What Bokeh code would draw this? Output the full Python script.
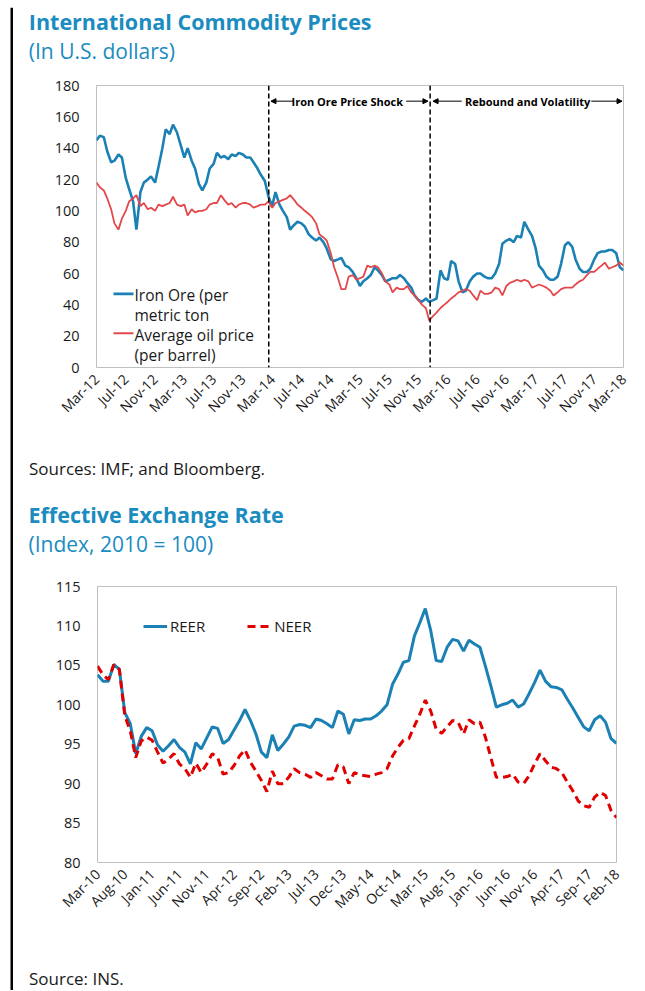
import math
import pandas as pd
from bokeh.plotting import figure
from bokeh.models import (Range1d, FixedTicker, Label, BoxAnnotation, Span,
                          Arrow, NormalHead, Legend, LegendItem)
from bokeh.layouts import column, row
from bokeh.embed import file_html
from bokeh.resources import INLINE

FONT = "Open Sans"
TITLE_COLOR = "#1a8cbf"
BLUE = "#1b80b4"
OIL_RED = "#e4474b"
NEER_RED = "#e00000"
GRID_GRAY = "#bfbfbf"
TEXT_COLOR = "#1a1a1a"

# ---------------- Chart 1 data: semi-monthly, Mar-2012 .. Mar-2018 ----------------
commodity_dates = pd.date_range("2012-03-01", "2018-03-01", freq="SMS")
iron_ore = [
    145, 148, 147, 138, 131, 132, 136, 134, 121, 114, 106, 88,
    112, 118, 120, 122, 118, 128, 140, 152, 149, 155, 150, 142,
    134, 140, 132, 127, 117, 113, 118, 127, 130, 137, 134, 135,
    133, 136, 135, 137, 136, 134, 134, 131, 127, 123, 119, 109,
    103, 112, 104, 100, 96, 88, 91, 93, 92, 90, 85, 83,
    81, 83, 80, 76, 69, 68, 69, 70, 65, 64, 61, 57,
    52, 55, 57, 59, 64, 62, 59, 55, 56, 57, 57, 59,
    57, 54, 51, 46, 43, 42, 44, 42, 43, 44, 62, 57,
    56, 68, 66, 55, 48, 49, 55, 58, 60, 60, 58, 57,
    57, 60, 66, 79, 81, 82, 80, 84, 83, 93, 88, 84,
    76, 65, 62, 58, 56, 56, 58, 66, 78, 80, 77, 69,
    63, 61, 61, 63, 69, 73, 74, 74, 75, 75, 73, 64,
    62,
]
oil_price = [
    118, 115, 113, 108, 101, 92, 88, 95, 100, 106, 108, 110,
    103, 105, 101, 102, 100, 104, 103, 104, 105, 109, 104, 103,
    104, 97, 101, 99, 100, 100, 101, 104, 105, 105, 110, 107,
    104, 105, 102, 104, 105, 105, 104, 102, 103, 104, 104, 106,
    102, 105, 106, 107, 108, 110, 107, 104, 102, 100, 98, 96,
    92, 85, 83, 81, 73, 64, 57, 50, 50, 58, 59, 56,
    57, 58, 65, 64, 65, 64, 60, 55, 53, 48, 51, 50,
    50, 52, 48, 46, 43, 40, 38, 30, 33, 35, 38, 40,
    42, 44, 46, 48, 49, 50, 49, 46, 43, 49, 47, 47,
    48, 51, 50, 46, 52, 54, 55, 56, 55, 56, 55, 51,
    52, 53, 52, 51, 49, 46, 48, 50, 51, 51, 51, 53,
    55, 56, 59, 61, 61, 63, 65, 67, 63, 64, 65, 67,
    65,
]
commodity_ticks = ["Mar-12", "Jul-12", "Nov-12", "Mar-13", "Jul-13", "Nov-13",
                   "Mar-14", "Jul-14", "Nov-14", "Mar-15", "Jul-15", "Nov-15",
                   "Mar-16", "Jul-16", "Nov-16", "Mar-17", "Jul-17", "Nov-17",
                   "Mar-18"]
shock_start = pd.Timestamp("2014-02-16")
rebound_start = pd.Timestamp("2015-12-19")

# ---------------- Chart 2 data: monthly, Mar-2010 .. Feb-2018 ----------------
eer_dates = pd.date_range("2010-03-01", "2018-02-01", freq="MS")
reer = [
    103.8, 103.0, 103.0, 105.1, 104.5, 99.0, 97.6, 93.8, 96.0, 97.1, 96.7, 94.9,
    94.1, 94.8, 95.6, 94.6, 94.0, 92.5, 95.2, 94.4, 95.8, 97.2, 97.0, 95.1,
    95.6, 96.8, 98.0, 99.4, 98.0, 96.3, 94.0, 93.3, 96.2, 94.2, 95.0, 95.9,
    97.3, 97.5, 97.4, 97.1, 98.2, 98.0, 97.6, 97.1, 99.2, 98.8, 96.3, 98.1,
    98.0, 98.2, 98.2, 98.6, 99.2, 100.0, 102.6, 103.9, 105.4, 105.6, 108.7, 110.4,
    112.2, 109.4, 105.6, 105.5, 107.3, 108.3, 108.1, 106.8, 108.2, 107.7, 107.3, 104.9,
    102.4, 99.7, 100.0, 100.2, 100.6, 99.7, 100.1, 101.4, 102.8, 104.4, 103.0, 102.3,
    102.2, 101.9, 100.7, 99.6, 98.4, 97.2, 96.7, 98.1, 98.6, 97.8, 95.7, 95.1,
]
neer = [
    104.9, 103.8, 103.2, 105.1, 104.5, 98.6, 96.7, 93.3, 95.4, 95.9, 95.5, 94.0,
    92.6, 93.1, 93.8, 92.5, 91.9, 90.8, 92.6, 91.4, 92.5, 93.8, 93.3, 91.2,
    91.4, 92.3, 93.5, 94.3, 92.7, 91.6, 90.4, 89.0, 91.6, 90.0, 90.0, 90.8,
    91.9, 91.4, 91.2, 90.8, 91.4, 91.0, 90.6, 90.6, 92.4, 92.1, 90.0, 91.4,
    91.1, 91.0, 90.9, 91.2, 91.4, 91.9, 93.5, 94.6, 95.5, 95.7, 97.3, 98.8,
    100.6, 99.2, 96.9, 96.4, 97.2, 98.0, 97.8, 96.3, 98.1, 97.6, 97.8, 95.9,
    93.3, 90.8, 90.8, 90.9, 91.2, 90.2, 90.0, 91.0, 92.5, 93.8, 92.9, 92.1,
    91.9, 91.4, 90.2, 89.1, 87.8, 87.2, 87.0, 88.3, 88.9, 88.5, 86.6, 85.7,
]
eer_ticks = ["Mar-10", "Aug-10", "Jan-11", "Jun-11", "Nov-11", "Apr-12", "Sep-12",
             "Feb-13", "Jul-13", "Dec-13", "May-14", "Oct-14", "Mar-15", "Aug-15",
             "Jan-16", "Jun-16", "Nov-16", "Apr-17", "Sep-17", "Feb-18"]


def month_offset(ts, start):
    """Fractional months since start."""
    base = (ts.year - start.year) * 12 + (ts.month - start.month)
    return base + (ts.day - 1) / ts.days_in_month


c_start = pd.Timestamp("2012-03-01")
cx = [month_offset(d, c_start) for d in commodity_dates]
e_start = pd.Timestamp("2010-03-01")
ex = [month_offset(d, e_start) for d in eer_dates]

PAGE_W = 645
LEFT_STRIP = 13
CONTENT_W = PAGE_W - LEFT_STRIP
TOP_STRIP = 7


def style(p, xticks, xlabels, yticks, xfont, yfont):
    p.xgrid.visible = False
    p.ygrid.visible = False
    p.outline_line_color = GRID_GRAY
    p.outline_line_width = 1
    p.background_fill_color = "white"
    p.border_fill_color = "white"
    for ax in (p.xaxis[0], p.yaxis[0]):
        ax.axis_line_color = None
        ax.major_tick_line_color = None
        ax.minor_tick_line_color = None
        ax.major_tick_out = 0
        ax.major_tick_in = 0
        ax.minor_tick_out = 0
        ax.major_label_text_font = FONT
        ax.major_label_text_color = TEXT_COLOR
    p.xaxis.ticker = FixedTicker(ticks=xticks)
    p.xaxis.major_label_overrides = {t: l for t, l in zip(xticks, xlabels)}
    p.xaxis.major_label_orientation = math.pi / 4
    p.xaxis.major_label_text_font_size = xfont
    p.xaxis.major_label_standoff = 9
    p.yaxis.ticker = FixedTicker(ticks=yticks)
    p.yaxis.major_label_text_font_size = yfont
    p.yaxis.major_label_standoff = 17


def text_label(p, x, y, text, size, color=TEXT_COLOR, bold=False):
    p.add_layout(Label(x=x, y=y, x_units="screen", y_units="screen", text=text,
                       text_font=FONT, text_font_size=size, text_color=color,
                       text_font_style="bold" if bold else "normal",
                       text_baseline="alphabetic", text_align="left"))


def blank_fig(w, h):
    f = figure(width=w, height=h, output_backend="svg", toolbar_location=None,
               x_axis_location=None, y_axis_location=None, min_border=0,
               x_range=Range1d(0, 1), y_range=Range1d(0, 1), frame_align=False)
    f.xgrid.visible = False
    f.ygrid.visible = False
    f.outline_line_color = None
    f.background_fill_color = "white"
    f.border_fill_color = "white"
    return f


BOX_SCREEN = dict(left_units="screen", right_units="screen", top_units="screen",
                  bottom_units="screen", fill_alpha=1.0, line_alpha=0)

# ---------------- frame strips (black page frame of the reference) ----------------
top_strip = blank_fig(PAGE_W, TOP_STRIP)
top_strip.add_layout(BoxAnnotation(left=10, right=PAGE_W, bottom=0.5, top=3,
                                   fill_color="black", **BOX_SCREEN))
left_strip = blank_fig(LEFT_STRIP, 983)
left_strip.add_layout(BoxAnnotation(left=10, right=12.5, bottom=0, top=983,
                                    fill_color="black", **BOX_SCREEN))

# ---------------- Chart 1 title block ----------------
t1 = blank_fig(CONTENT_W, 63)
text_label(t1, 15.3, 49.5, "International Commodity Prices", "21.5px", TITLE_COLOR, bold=True)
text_label(t1, 15.3, 19.5, "(In U.S. dollars)", "21px", TITLE_COLOR)

# ---------------- Figure 1 ----------------
p1 = figure(width=CONTENT_W, height=370, output_backend="svg", toolbar_location=None,
            x_range=Range1d(0, 72), y_range=Range1d(0, 180),
            min_border_left=83, min_border_right=22, min_border_top=15,
            min_border_bottom=73, frame_align=False)
style(p1, list(range(0, 73, 4)), commodity_ticks, list(range(0, 181, 20)),
      "14px", "14.5px")

p1.line(cx, iron_ore, line_color=BLUE, line_width=2.6)
p1.line(cx, oil_price, line_color=OIL_RED, line_width=1.8)

for d in (shock_start, rebound_start):
    p1.add_layout(Span(location=month_offset(d, c_start), dimension="height",
                       line_color="black", line_dash="5 3", line_width=1.5))

ann_y = 170
s_x = month_offset(shock_start, c_start)
r_x = month_offset(rebound_start, c_start)
p1.add_layout(Label(x=(s_x + r_x) / 2 - 0.3, y=ann_y, text="Iron Ore Price Shock",
                    text_font=FONT, text_font_size="11px", text_font_style="bold",
                    text_align="center", text_baseline="middle", text_color="black"))
p1.add_layout(Label(x=58.9, y=ann_y, text="Rebound and Volatility",
                    text_font=FONT, text_font_size="11px", text_font_style="bold",
                    text_align="center", text_baseline="middle", text_color="black"))
for xs, xe in ((s_x + 3.3, s_x + 0.3), (42.3, r_x - 0.3), (49.9, r_x + 0.4), (67.6, 71.8)):
    p1.add_layout(Arrow(end=NormalHead(size=5, fill_color="black", line_color="black",
                                       line_width=1),
                        x_start=xs, y_start=ann_y, x_end=xe, y_end=ann_y,
                        line_color="black", line_width=1))

# legend (manual, multi-line labels)
p1.add_layout(BoxAnnotation(left=17, right=37, bottom=72.3, top=75.1,
                            fill_color=BLUE, **BOX_SCREEN))
p1.add_layout(BoxAnnotation(left=17, right=37, bottom=33.3, top=35.3,
                            fill_color=OIL_RED, **BOX_SCREEN))
text_label(p1, 38, 73, "Iron Ore (per", "15.5px")
text_label(p1, 38, 53, "metric ton", "15.5px")
text_label(p1, 38, 32.5, "Average oil price", "15.5px")
text_label(p1, 38, 13, "(per barrel)", "15.5px")

# ---------------- middle text block: source 1 + title 2 ----------------
m1 = blank_fig(CONTENT_W, 130)
text_label(m1, 15.5, 102, "Sources: IMF; and Bloomberg.", "17px")
text_label(m1, 15, 56.3, "Effective Exchange Rate", "21.5px", TITLE_COLOR, bold=True)
text_label(m1, 15, 26.8, "(Index, 2010 = 100)", "21px", TITLE_COLOR)

# ---------------- Figure 2 ----------------
p2 = figure(width=CONTENT_W, height=370, output_backend="svg", toolbar_location=None,
            x_range=Range1d(0, 95), y_range=Range1d(80, 115),
            min_border_left=84, min_border_right=29, min_border_top=16,
            min_border_bottom=78, frame_align=False)
style(p2, list(range(0, 96, 5)), eer_ticks, list(range(80, 116, 5)),
      "14px", "14.5px")

r_reer = p2.line(ex, reer, line_color=BLUE, line_width=3)
r_neer = p2.line(ex, neer, line_color=NEER_RED, line_width=3, line_dash="8 5")

legend = Legend(items=[LegendItem(label="REER", renderers=[r_reer]),
                       LegendItem(label="NEER", renderers=[r_neer])],
                location=(46, 226), orientation="horizontal",
                glyph_width=24, glyph_height=20, label_height=20,
                label_standoff=3, spacing=42, padding=0, margin=0,
                border_line_color=None, background_fill_alpha=0,
                label_text_font=FONT, label_text_font_size="15px",
                label_text_color=TEXT_COLOR)
p2.add_layout(legend)

# ---------------- bottom text block ----------------
s2 = blank_fig(CONTENT_W, 50)
text_label(s2, 15.5, 12, "Source: INS.", "17px")

content = column(t1, p1, m1, p2, s2)
layout = column(top_strip, row(left_strip, content))
open("out.html", "w").write(file_html(layout, INLINE, title="Commodity prices and exchange rate"))
